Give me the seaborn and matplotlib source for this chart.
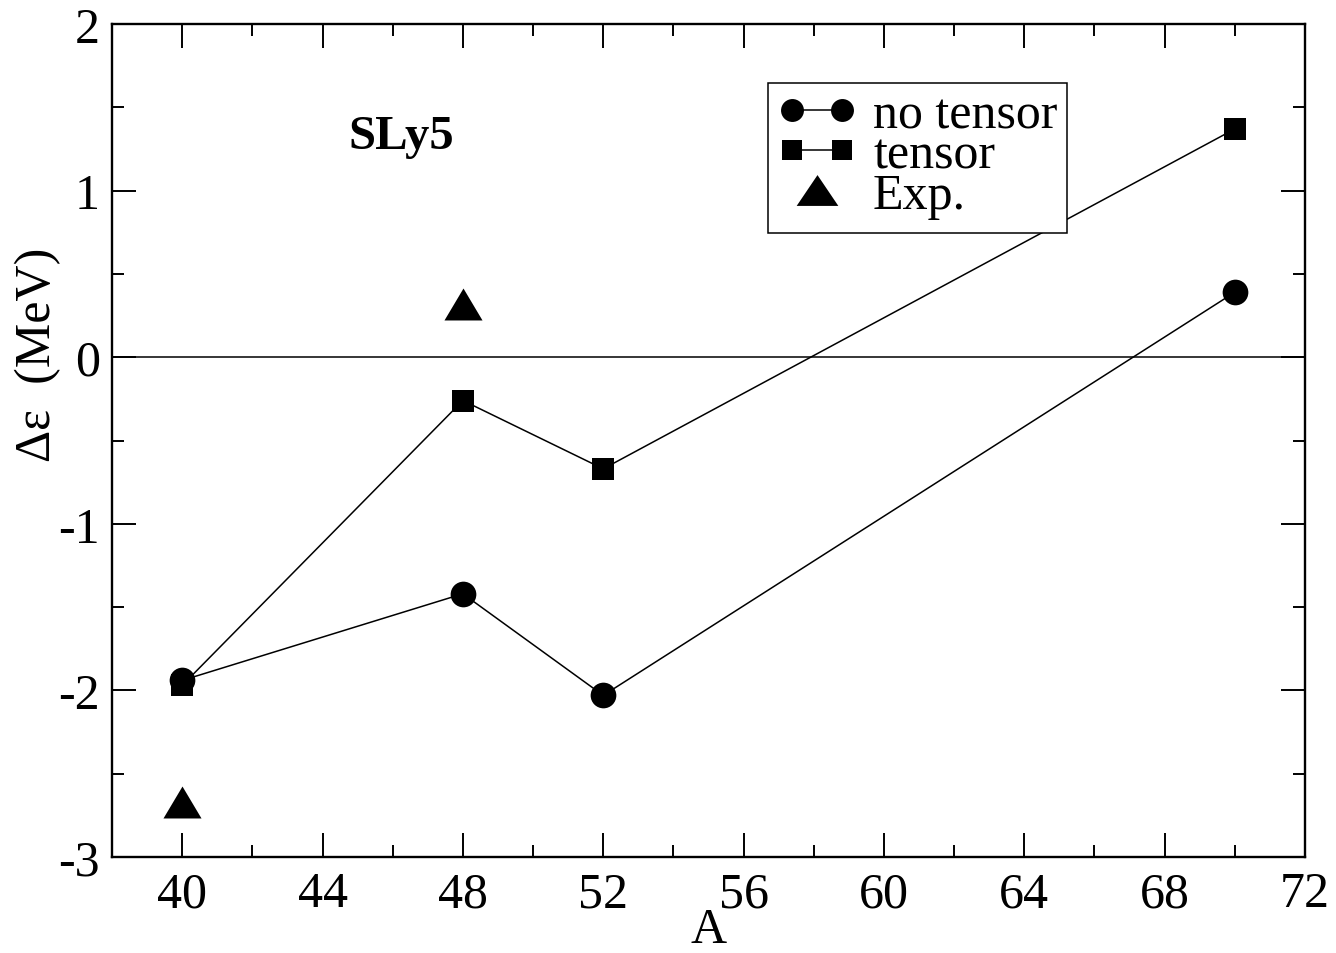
import matplotlib
matplotlib.use("Agg")
import matplotlib.pyplot as plt
from matplotlib.lines import Line2D
from matplotlib.patches import Rectangle
from matplotlib.legend_handler import HandlerLine2D
from matplotlib.ticker import MultipleLocator
import seaborn as sns

# Single-particle gap vs. mass number, SLy5 interaction
mass_number = [40, 48, 52, 70]
gap_no_tensor = [-1.94, -1.42, -2.03, 0.39]
gap_tensor = [-1.97, -0.26, -0.67, 1.37]
exp_mass_number = [40, 48]
gap_exp = [-2.67, 0.32]

x_ticks = [40, 44, 48, 52, 56, 60, 64, 68, 72]
y_ticks = [-3, -2, -1, 0, 1, 2]
series_labels = ["no tensor", "tensor", "Exp."]

sns.set_theme(style="ticks")
plt.rcParams["font.family"] = ["Liberation Serif", "DejaVu Serif"]
plt.rcParams["axes.unicode_minus"] = False
for key in ("text.color", "axes.labelcolor", "xtick.color", "ytick.color",
            "axes.edgecolor"):
    plt.rcParams[key] = "black"

W, H = 1336, 954
fig = plt.figure(figsize=(W / 100, H / 100), dpi=100)
ax = fig.add_axes([112 / W, 1 - 858 / H, 1193 / W, 833 / H])

ax.axhline(0, color="black", lw=1.1, zorder=1)

# triangle marker, slightly flatter than equilateral
tri = [(0, 0.84), (-1, -0.84), (1, -0.84)]
tri_leg = [(0, 0.74), (-1, -0.74), (1, -0.74)]

sns.lineplot(x=mass_number, y=gap_tensor, ax=ax, color="black", lw=1.1,
             marker="s", markersize=16, markeredgewidth=0, errorbar=None,
             legend=False, zorder=3)
sns.lineplot(x=mass_number, y=gap_no_tensor, ax=ax, color="black", lw=1.1,
             marker="o", markersize=18.5, markeredgewidth=0, errorbar=None,
             legend=False, zorder=3)
sns.scatterplot(x=exp_mass_number, y=gap_exp, ax=ax, color="black",
                marker=tri, s=27.4 ** 2, linewidth=0, legend=False, zorder=3)

ax.set_xlim(38, 72)
ax.set_ylim(-3, 2)
ax.set_xticks(x_ticks)
ax.set_yticks(y_ticks)
ax.xaxis.set_minor_locator(MultipleLocator(2))
ax.yaxis.set_minor_locator(MultipleLocator(0.5))
ax.tick_params(which="both", direction="in", top=True, right=True,
               width=1.4, color="black")
ax.tick_params(which="major", length=17)
ax.tick_params(which="minor", length=8.5)
ax.tick_params(axis="y", which="major", labelsize=36, pad=8.6)
ax.tick_params(axis="x", which="major", labelsize=36, pad=10)
for sp in ax.spines.values():
    sp.set_linewidth(1.7)
    sp.set_color("black")

ax.set_xlabel("A", fontsize=36)
ax.xaxis.label.set_va("baseline")
ax.xaxis.set_label_coords(0.5, (858 - 943) / 833)
ax.set_ylabel("Δε  (MeV)", fontsize=36)
ax.yaxis.label.set_va("center")
ax.yaxis.set_label_coords((38 - 112) / 1193, (858 - 355) / 833)

ax.text(44.73, 1.254, "SLy5", fontsize=35, fontweight="bold",
        ha="left", va="baseline")

# legend box
ax.add_patch(Rectangle(((768 - 112) / 1193, (858 - 234) / 833),
                       299 / 1193, 150 / 833, transform=ax.transAxes,
                       facecolor="white", edgecolor="black", lw=1.1,
                       zorder=4))
handles = [
    Line2D([], [], color="black", lw=1.1, marker="o", markersize=16.5,
           markeredgewidth=0),
    Line2D([], [], color="black", lw=1.1, marker="s", markersize=15,
           markeredgewidth=0),
    Line2D([], [], ls="none", color="black", marker=tri_leg, markersize=30,
           markeredgewidth=0),
]
ax.legend(handles, series_labels, loc="upper left",
          bbox_to_anchor=((777 - 112) / 1193, (858 - 93) / 833),
          borderpad=0, borderaxespad=0, frameon=False, numpoints=2,
          handlelength=1.6, handletextpad=0.32, labelspacing=-0.13,
          fontsize=36, labelcolor="black",
          handler_map={handles[2]: HandlerLine2D(numpoints=1)})

fig.savefig("out.png", dpi=100)
